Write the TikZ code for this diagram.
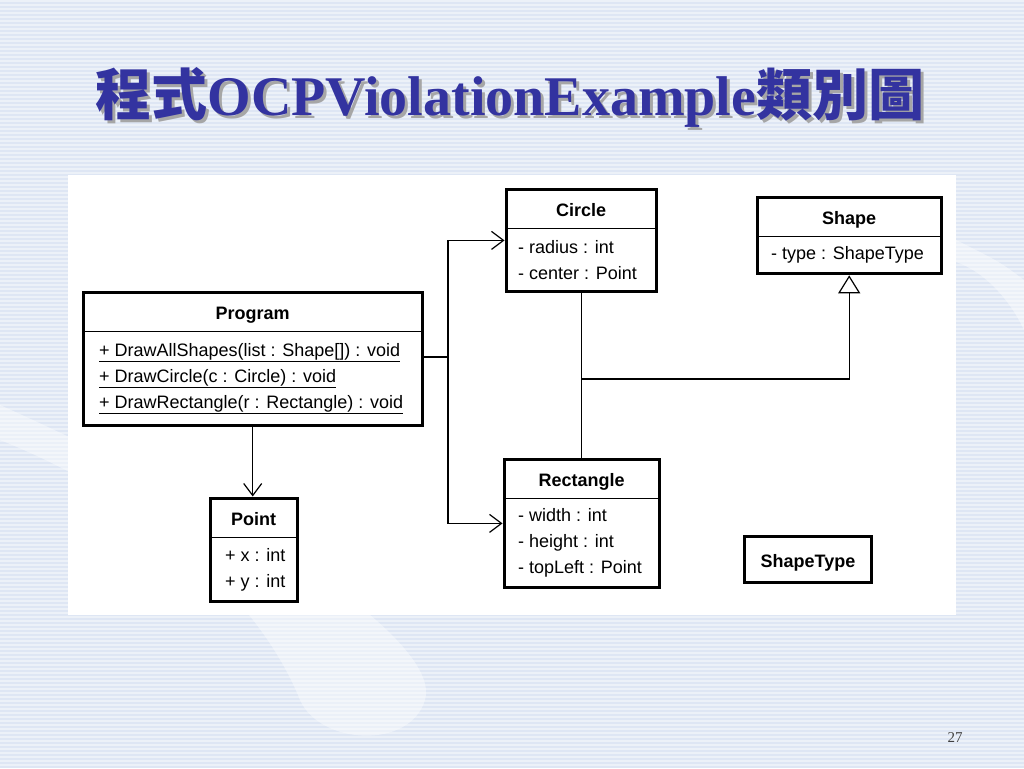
\documentclass[tikz,border=0pt]{standalone}
\usepackage{fontspec}
\setmainfont{Liberation Serif}
\setsansfont{Liberation Sans}
\newfontfamily\cjk{Noto Sans CJK TC}
\usetikzlibrary{arrows.meta,positioning,fit}

\definecolor{slidebg}{RGB}{222,230,244}
\definecolor{titleblue}{RGB}{51,51,160}

\begin{document}
\begin{tikzpicture}[
      x=1pt, y=-1pt,%
      titletext/.style={anchor=base, text=titleblue, font=\bfseries\fontsize{56}{60}\selectfont},%
      head/.style={anchor=north west, minimum height=39, inner sep=0pt, text height=15pt, text depth=0pt,
                   font=\sffamily\bfseries\fontsize{18}{22}\selectfont},%
      attrs/.style={inner sep=0pt, align=left, font=\sffamily\fontsize{18}{26}\selectfont},%
      frame/.style={draw, line width=3pt, inner sep=0pt},%
      rule/.style={line width=1pt},%
      link/.style={line width=1.2pt},%
      assoc/.style={link, -{Straight Barb[length=12pt, width=18pt]}},%
      inherit/.style={link, -{Triangle[open, fill=white, length=18pt, width=22pt]}}%
    ]
    \useasboundingbox (0,0) rectangle (1024,768);

    %% Slide background with stripes
    \fill[slidebg] (0,0) rectangle (1024,768);
    \foreach \y in {0,4,...,768}
      \fill[white, opacity=.45] (0,\y) rectangle (1024,\y+2);

    %% Faint swooshes
    \fill[white, opacity=.4] (0,440) .. controls (150,500) and (260,600) .. (300,700)
                                    .. controls (320,745) and (410,750) .. (425,700)
                                    .. controls (440,650) and (300,540) .. (0,405) -- cycle;
    \fill[white, opacity=.4] (956,262) .. controls (985,272) and (1010,300) .. (1024,330)
                                      -- (1024,280) .. controls (1000,262) .. (956,240) -- cycle;

    %% White panel
    \fill[white] (68,175) rectangle (956,615);

    %% Title
    \node[titletext, text=black!35] (titleShadow) at (513,118) {{\cjk 程式}OCPViolationExample{\cjk 類別圖}};
    \node[titletext] (title) at (510,115) {{\cjk 程式}OCPViolationExample{\cjk 類別圖}};

    \node[anchor=base, font=\fontsize{15}{18}\selectfont, text=black!75] (pageNo) at (955,742) {27};

    %% Program
    \node[head, minimum width=339] (programHead) at (83,292) {Program};
    \node[attrs, minimum height=94, below right=0pt and 16pt of programHead.south west] (programOps)
      {\underline{+ DrawAllShapes(list : Shape[]) : void}\\
       \underline{+ DrawCircle(c : Circle) : void}\\
       \underline{+ DrawRectangle(r : Rectangle) : void}};
    \node[frame, fit=(programHead)(programOps)] (program) {};
    \draw[rule] (programHead.south west) -- (programHead.south east);

    %% Circle
    \node[head, minimum width=150] (circleHead) at (506,189) {Circle};
    \node[attrs, minimum height=63, below right=0pt and 12pt of circleHead.south west] (circleAttrs)
      {- radius : int\\- center : Point};
    \node[frame, fit=(circleHead)(circleAttrs)] (circle) {};
    \draw[rule] (circleHead.south west) -- (circleHead.south east);

    %% Shape
    \node[head, minimum width=184] (shapeHead) at (757,197) {Shape};
    \node[attrs, minimum height=37, below right=0pt and 14pt of shapeHead.south west] (shapeAttrs)
      {- type : ShapeType};
    \node[frame, fit=(shapeHead)(shapeAttrs)] (shape) {};
    \draw[rule] (shapeHead.south west) -- (shapeHead.south east);

    %% Point
    \node[head, minimum width=87] (pointHead) at (210,498) {Point};
    \node[attrs, minimum height=64, below right=0pt and 15pt of pointHead.south west] (pointAttrs)
      {+ x : int\\+ y : int};
    \node[frame, fit=(pointHead)(pointAttrs)] (point) {};
    \draw[rule] (pointHead.south west) -- (pointHead.south east);

    %% Rectangle
    \node[head, minimum width=155] (rectangleHead) at (504,459) {Rectangle};
    \node[attrs, minimum height=89, below right=0pt and 14pt of rectangleHead.south west] (rectangleAttrs)
      {- width : int\\- height : int\\- topLeft : Point};
    \node[frame, fit=(rectangleHead)(rectangleAttrs)] (rectangle) {};
    \draw[rule] (rectangleHead.south west) -- (rectangleHead.south east);

    %% ShapeType
    \node[head, frame, minimum width=127, minimum height=46] (shapeType) at (743,535) {ShapeType};

    %% Connectors
    \coordinate (fork) at (448,357);
    \coordinate (joint) at (581,379);
    \draw[link] (program.east |- fork) -- (fork);
    \draw[assoc] (fork) |- (circle.west);
    \draw[assoc] (fork) |- (rectangle.west);
    \draw[assoc] (program.south) -- (program.south |- point.north);
    \draw[link] (circle.south) -- (circle.south |- rectangle.north);
    \draw[inherit] (circle.south |- joint) -| (shape.south);
  \end{tikzpicture}
\end{document}
